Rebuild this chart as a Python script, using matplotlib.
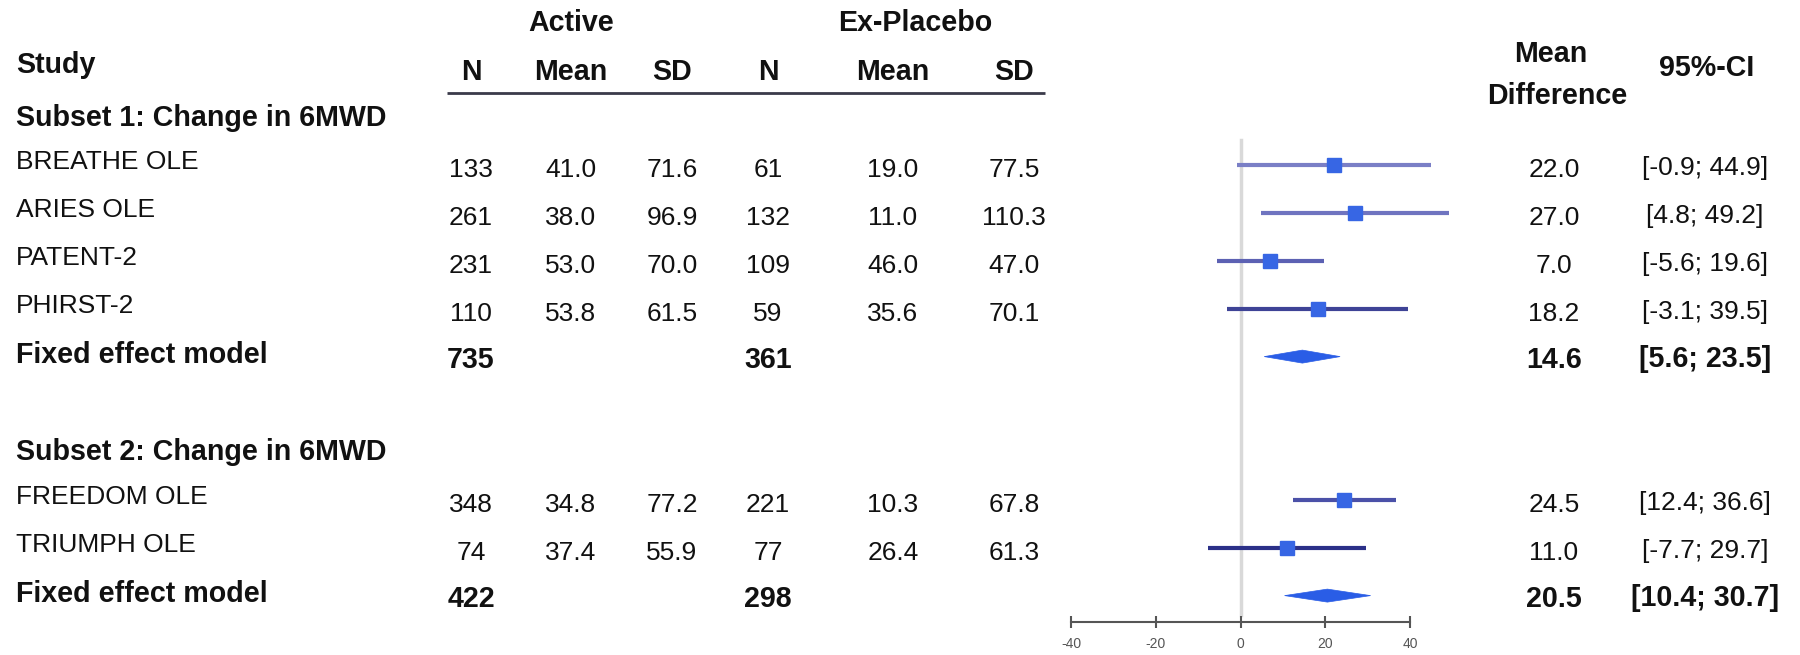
import matplotlib
matplotlib.use("Agg")
import matplotlib.pyplot as plt
from matplotlib.patches import Polygon

plt.rcParams['font.family'] = ['Liberation Sans', 'DejaVu Sans']

# ---- data ----
studies = ['BREATHE OLE', 'ARIES OLE', 'PATENT-2', 'PHIRST-2', 'FREEDOM OLE', 'TRIUMPH OLE']
study_subset = [0, 0, 0, 0, 1, 1]
n_active = [133, 261, 231, 110, 348, 74]
mean_active = [41.0, 38.0, 53.0, 53.8, 34.8, 37.4]
sd_active = [71.6, 96.9, 70.0, 61.5, 77.2, 55.9]
n_placebo = [61, 132, 109, 59, 221, 77]
mean_placebo = [19.0, 11.0, 46.0, 35.6, 10.3, 26.4]
sd_placebo = [77.5, 110.3, 47.0, 70.1, 67.8, 61.3]
md = [22.0, 27.0, 7.0, 18.2, 24.5, 11.0]
ci_lo = [-0.9, 4.8, -5.6, -3.1, 12.4, -7.7]
ci_hi = [44.9, 49.2, 19.6, 39.5, 36.6, 29.7]

subset_titles = ['Subset 1: Change in 6MWD', 'Subset 2: Change in 6MWD']
fixed_n_active = [735, 422]
fixed_n_placebo = [361, 298]
fixed_md = [14.6, 20.5]
fixed_lo = [5.6, 10.4]
fixed_hi = [23.5, 30.7]

xticks = [-40, -20, 0, 20, 40]

# ---- styling ----
line_cols = ['#7a7fc6', '#6f74c0', '#5c61b3', '#3e4396', '#4b51a8', '#2b3088']
sq_col = '#3766e4'
dia_col = '#2a5de6'
txt = '#111111'
fs = 19
fsb = 20.6

W, H = 1800, 655
fig = plt.figure(figsize=(W / 100, H / 100), dpi=100)
tab = fig.add_axes([0, 0, 1, 1])
tab.set_xlim(0, W)
tab.set_ylim(H, 0)
tab.axis('off')

# forest panel: x in effect units, y in the same pixel rows as the table
ax_top, ax_bot = 130, 622
ax_l, ax_r = 1071, 1410
ax = fig.add_axes([ax_l / W, (H - ax_bot) / H, (ax_r - ax_l) / W, (ax_bot - ax_top) / H])
ax.set_xlim(-40, 40)
ax.set_ylim(ax_bot, ax_top)
for s in ['top', 'left', 'right']:
    ax.spines[s].set_visible(False)
ax.spines['bottom'].set_color('#555555')
ax.spines['bottom'].set_linewidth(1.5)
ax.set_yticks([])
ax.set_xticks(xticks)
ax.set_xticklabels([str(t) for t in xticks])
ax.tick_params(axis='x', direction='inout', length=8, width=1.5, color='#555555',
               labelsize=10, labelcolor='#555555', pad=7)
ax.patch.set_alpha(0)


def row_y(i):
    return 22 + 47.8 * i


col_x = [471, 571, 672, 768, 893, 1014]
md_x, ci_x = 1554, 1705

# headers
tab.text(571, 23, 'Active', ha='center', va='center', fontsize=fsb, fontweight='bold', color=txt)
tab.text(915, 23, 'Ex-Placebo', ha='center', va='center', fontsize=fsb, fontweight='bold', color=txt)
tab.text(16, 65, 'Study', ha='left', va='center', fontsize=fsb, fontweight='bold', color=txt)
for x, lab in zip(col_x, ['N', 'Mean', 'SD', 'N', 'Mean', 'SD']):
    tab.text(x, 72, lab, ha='center', va='center', fontsize=fsb, fontweight='bold', color=txt)
tab.plot([447, 1045], [93, 93], color='#3a3a4a', lw=2, solid_capstyle='butt')
tab.text(1551, 54, 'Mean', ha='center', va='center', fontsize=fsb, fontweight='bold', color=txt)
tab.text(1557, 96, 'Difference', ha='center', va='center', fontsize=fsb, fontweight='bold', color=txt)
tab.text(1707, 68, '95%-CI', ha='center', va='center', fontsize=fsb, fontweight='bold', color=txt)

# zero line
ax.plot([0, 0], [140, 615], color='#d9d9d9', lw=2.5, zorder=0, clip_on=False)

row = 2
for g in range(2):
    tab.text(16, row_y(row), subset_titles[g], ha='left', va='center',
             fontsize=fsb, fontweight='bold', color=txt)
    row += 1
    for i in range(len(studies)):
        if study_subset[i] != g:
            continue
        y = row_y(row)
        tab.text(16, y - 3, studies[i], ha='left', va='center', fontsize=fs, color=txt)
        vals = [str(n_active[i]), f'{mean_active[i]:.1f}', f'{sd_active[i]:.1f}',
                str(n_placebo[i]), f'{mean_placebo[i]:.1f}', f'{sd_placebo[i]:.1f}']
        for x, v in zip(col_x, vals):
            tab.text(x, y + 5, v, ha='center', va='center', fontsize=fs, color=txt)
        tab.text(md_x, y + 5, f'{md[i]:.1f}', ha='center', va='center', fontsize=fs, color=txt)
        tab.text(ci_x, y + 3, f'[{ci_lo[i]:.1f}; {ci_hi[i]:.1f}]', ha='center', va='center',
                 fontsize=fs, color=txt)
        ax.plot([ci_lo[i], ci_hi[i]], [y, y], color=line_cols[i], lw=3, clip_on=False,
                solid_capstyle='butt', zorder=2)
        ax.plot([md[i]], [y], marker='s', ms=10, color=sq_col, mec=sq_col, clip_on=False, zorder=3)
        row += 1
    y = row_y(row)
    tab.text(16, y - 2, 'Fixed effect model', ha='left', va='center', fontsize=fsb,
             fontweight='bold', color=txt)
    tab.text(col_x[0], y + 3, str(fixed_n_active[g]), ha='center', va='center', fontsize=fsb,
             fontweight='bold', color=txt)
    tab.text(col_x[3], y + 3, str(fixed_n_placebo[g]), ha='center', va='center', fontsize=fsb,
             fontweight='bold', color=txt)
    tab.text(md_x, y + 3, f'{fixed_md[g]:.1f}', ha='center', va='center', fontsize=fsb,
             fontweight='bold', color=txt)
    tab.text(ci_x, y + 2, f'[{fixed_lo[g]:.1f}; {fixed_hi[g]:.1f}]', ha='center', va='center',
             fontsize=fsb, fontweight='bold', color=txt)
    dia = Polygon([(fixed_lo[g], y), (fixed_md[g], y - 6.5), (fixed_hi[g], y), (fixed_md[g], y + 6.5)],
                  closed=True, facecolor=dia_col, edgecolor=dia_col, lw=0.5, clip_on=False, zorder=3)
    ax.add_patch(dia)
    row += 2

fig.savefig('out.png', dpi=100)
